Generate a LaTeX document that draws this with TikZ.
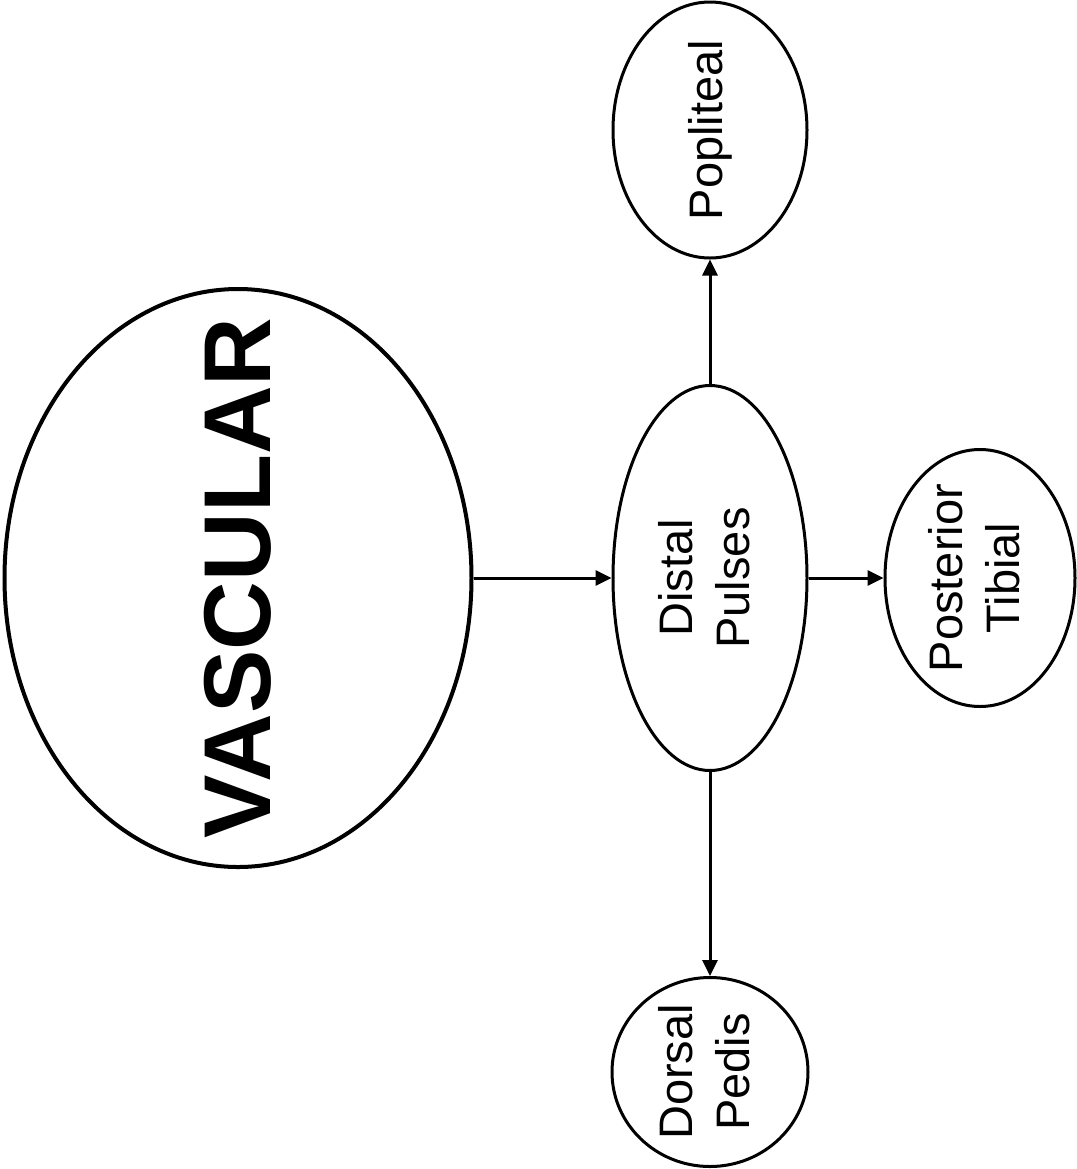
\documentclass[tikz,border=0pt]{standalone}
\usepackage{fontspec}
\setmainfont{Liberation Sans}
\usetikzlibrary{shapes.geometric,arrows.meta}
\newcommand{\bubtext}[1]{\makebox[0pt]{\begin{tabular}{@{}c@{}}#1\end{tabular}}}

\begin{document}
\begin{tikzpicture}[
    x=0.5pt, y=-0.5pt,
    bubble/.style={draw, ellipse, line width=1.5pt, rotate=90, inner sep=0pt,
        font=\fontsize{23.5}{28.5}\selectfont},
    link/.style={line width=1.5pt, -{Triangle[length=8pt,width=7.5pt]}}
]
\useasboundingbox (0,0) rectangle (1077,1169);

\node[bubble, line width=2pt, minimum width=289pt, minimum height=233.5pt,
    font=\fontsize{47.5}{57}\selectfont\bfseries] (vascular) at (238,578)
    {\makebox[0pt]{VASCULAR}};

\node[bubble, minimum width=192.5pt, minimum height=97pt] (distal) at (710,578)
    {\bubtext{Distal\\Pulses}};
\node[bubble, minimum width=128pt, minimum height=97pt] (popliteal) at (710,130)
    {\makebox[0pt]{Popliteal}};
\node[bubble, minimum width=128.5pt, minimum height=95pt] (posterior) at (980,578)
    {\bubtext{Posterior\\Tibial}};
\node[bubble, minimum width=94.5pt, minimum height=98pt] (dorsal) at (710,1072)
    {\bubtext{Dorsal\\Pedis}};

\draw[link] (vascular) -- (distal);
\draw[link] (distal) -- (popliteal);
\draw[link] (distal) -- (posterior);
\draw[link] (distal) -- (dorsal);

\end{tikzpicture}
\end{document}
